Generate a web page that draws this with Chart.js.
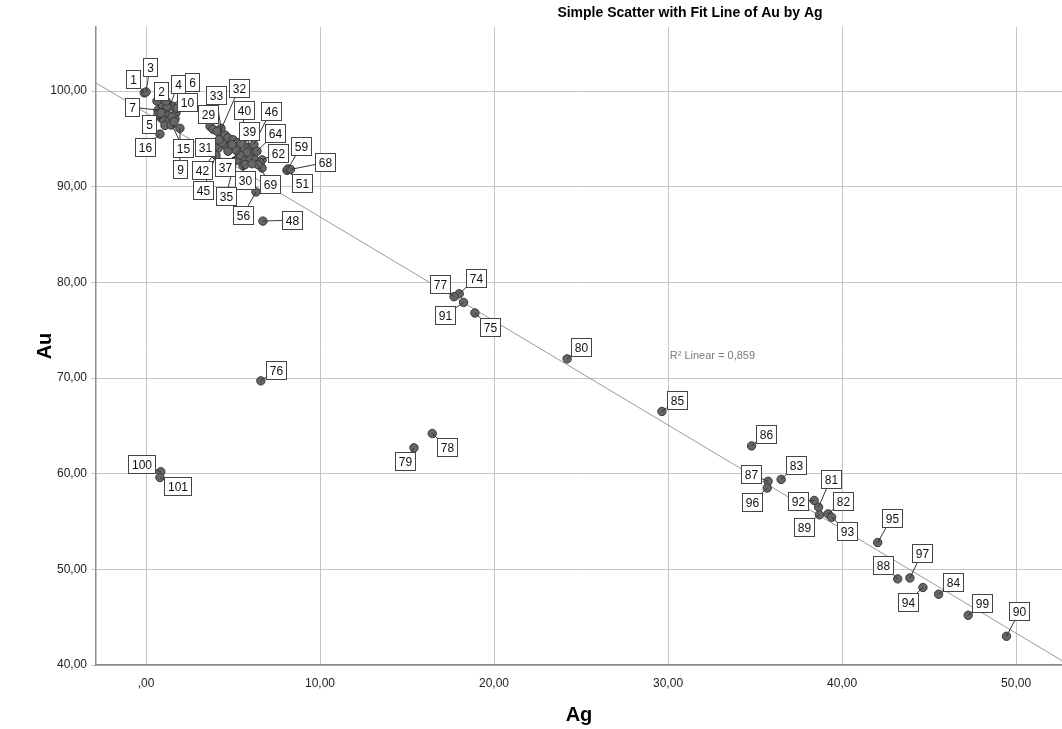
<!DOCTYPE html>
<html>
<head>
<meta charset="utf-8">
<script src="https://cdn.jsdelivr.net/npm/chart.js@4.4.1/dist/chart.umd.min.js"></script>
<style>
  body { margin: 0; background: #fff; }
  #wrap { width: 1062px; height: 729px; }
</style>
</head>
<body>
<div id="wrap"><canvas id="scatter" width="1062" height="729"></canvas></div>
<script>
// case numbers with Ag / Au values
const caseNo = [
  1, 2, 3, 4, 5, 6, 7, 8, 9, 10, 11, 12, 13, 14, 15, 16, 17, 18, 19, 20, 21, 22, 23, 24, 25, 26, 27, 28,
  29, 30, 31, 32, 33, 34, 35, 36, 37, 38, 39, 40, 41, 42, 43, 44, 45, 46, 47, 48, 49, 50,
  51, 52, 53, 54, 55, 56, 57, 58, 59, 60, 61, 62, 63, 64, 65, 66, 67, 68, 69, 70, 71, 72, 73,
  74, 75, 76, 77, 78, 79, 80, 81, 82, 83, 84, 85, 86, 87, 88, 89, 90, 91, 92, 93, 94, 95, 96, 97, 99, 100, 101
];
const agValues = [
  -0.1, 0.75, 0.0, 1.38, 0.86, 1.55, 0.69, 0.98, 1.95, 1.72, 1.15, 1.26, 1.03, 1.32, 1.49, 0.8, 1.67, 0.92, 1.21, 1.49, 1.09, 0.69, 1.44, 0.63, 1.78, 1.15, 0.86, 1.61,
  3.68, 5.57, 3.97, 4.25, 4.31, 3.85, 5.11, 4.08, 5.4, 4.54, 5.86, 5.57, 4.71, 4.14, 5.0, 5.29, 4.02, 6.2, 4.6, 6.72, 4.89, 5.17,
  8.1, 6.09, 5.69, 5.98, 5.69, 6.32, 6.26, 5.23, 8.16, 4.37, 4.71, 6.67, 5.46, 6.38, 6.55, 6.67, 4.94, 8.3, 6.44, 5.8, 4.2, 5.4, 6.09,
  18.0, 18.9, 6.6, 17.7, 16.45, 15.4, 24.2, 38.65, 39.2, 36.5, 45.55, 29.65, 34.8, 35.75, 43.2, 38.7, 49.45, 18.25, 38.4, 39.4, 44.65, 42.05, 35.7, 43.9, 47.25, 0.85, 0.8
];
const auValues = [
  99.8, 98.9, 99.9, 98.5, 97.2, 98.4, 98.0, 98.2, 96.1, 97.7, 97.8, 97.4, 96.9, 96.9, 96.5, 95.5, 97.1, 98.6, 98.4, 97.3, 96.4, 97.6, 96.45, 98.95, 98.2, 98.95, 97.7, 96.8,
  96.3, 92.2, 94.6, 95.7, 96.1, 96.0, 92.7, 95.8, 93.6, 95.4, 94.1, 94.9, 95.1, 94.0, 94.9, 94.6, 93.3, 94.4, 94.25, 86.4, 94.15, 93.8,
  91.7, 93.5, 93.0, 93.0, 92.3, 89.45, 92.8, 92.8, 91.85, 94.6, 93.7, 92.8, 94.5, 93.7, 92.5, 91.95, 94.4, 91.8, 92.3, 93.6, 94.9, 93.3, 92.4,
  78.8, 76.8, 69.7, 78.5, 64.2, 62.7, 72.0, 56.5, 55.8, 59.4, 47.4, 66.5, 62.9, 59.2, 49.0, 55.7, 43.0, 77.9, 57.2, 55.45, 48.1, 52.8, 58.5, 49.1, 45.2, 60.2, 59.6
];

const fitAg = [-3, 53];
const fitAu = [100.98, 40.06];
const rSquared = '0,859';

const xTicks = [0, 10, 20, 30, 40, 50];
const yTicks = [40, 50, 60, 70, 80, 90, 100];

// cases that carry a label box, with the box offset from the point (px)
const labelOffsets = {
  1: [-11, -14], 3: [4, -25], 2: [2, -11], 4: [8, -21], 6: [19, -24], 7: [-26, -3], 10: [11, -11],
  5: [-12, 6], 16: [-15, 13], 15: [11, 24], 9: [0, 41],
  29: [-2, -12], 33: [-5, -33], 32: [19, -44], 40: [1, -30], 46: [17, -34], 39: [1, -16], 64: [18, -18],
  31: [-10, 4], 62: [16, -7], 59: [13, -23], 68: [35, -7], 51: [15, 13], 42: [-16, 22], 37: [-15, 15],
  30: [2, 14], 69: [12, 19], 45: [-13, 35], 35: [-9, 35], 56: [-13, 23], 48: [29, -1],
  77: [-14, -13], 74: [17, -16], 91: [-19, 13], 75: [15, 14], 76: [15, -11], 80: [14, -12],
  79: [-9, 13], 78: [15, 14], 100: [-19, -8], 101: [18, 9],
  85: [15, -11], 86: [14, -12], 83: [15, -14], 87: [-17, -7], 81: [12, -28], 96: [-15, 14],
  92: [-16, 1], 82: [15, -13], 89: [-15, 12], 93: [15, 14], 95: [14, -25], 97: [12, -25],
  88: [-15, -14], 84: [14, -12], 94: [-15, 14], 99: [14, -12], 90: [13, -25]
};

const FONT = '"Liberation Sans", Arial, sans-serif';

function commaFmt(v) {
  if (v === 0) return ',00';
  return v.toFixed(2).replace('.', ',');
}

const points = caseNo.map((c, i) => ({x: agValues[i], y: auValues[i], c}));
const fitPoints = fitAg.map((x, i) => ({x, y: fitAu[i]}));

const labelPlugin = {
  id: 'labelPlugin',
  afterDatasetsDraw(chart) {
    const {ctx, scales} = chart;
    const boxes = [];
    points.forEach(p => {
      const off = labelOffsets[p.c];
      if (!off) return;
      const px = scales.x.getPixelForValue(p.x);
      const py = scales.y.getPixelForValue(p.y);
      boxes.push({px, py, bx: px + off[0], by: py + off[1], text: String(p.c)});
    });
    ctx.save();
    ctx.font = '12px ' + FONT;
    // leader lines first
    ctx.strokeStyle = '#333';
    ctx.lineWidth = 1;
    boxes.forEach(b => {
      if (Math.hypot(b.bx - b.px, b.by - b.py) < 13) return;
      ctx.beginPath();
      ctx.moveTo(b.px, b.py);
      ctx.lineTo(b.bx, b.by);
      ctx.stroke();
    });
    boxes.forEach(b => {
      const w = Math.round(ctx.measureText(b.text).width + 7);
      const h = 18;
      const x0 = Math.round(b.bx - w / 2) + 0.5;
      const y0 = Math.round(b.by - h / 2) + 0.5;
      ctx.fillStyle = '#fff';
      ctx.fillRect(x0, y0, w, h);
      ctx.strokeStyle = '#444';
      ctx.strokeRect(x0, y0, w, h);
      ctx.fillStyle = '#111';
      ctx.textAlign = 'center';
      ctx.textBaseline = 'middle';
      ctx.fillText(b.text, x0 + w / 2, y0 + h / 2 + 1);
    });

    // R² note
    ctx.fillStyle = '#7a7a7a';
    ctx.font = '11px ' + FONT;
    ctx.textAlign = 'left';
    ctx.fillText('R² Linear = ' + rSquared, scales.x.getPixelForValue(30.1), scales.y.getPixelForValue(72.3));

    // titles
    const area = chart.chartArea;
    ctx.fillStyle = '#000';
    ctx.textAlign = 'center';
    ctx.textBaseline = 'middle';
    ctx.font = 'bold 14px ' + FONT;
    ctx.fillText('Simple Scatter with Fit Line of Au by Ag', 690, 13);
    ctx.font = 'bold 20px ' + FONT;
    ctx.fillText('Ag', (area.left + area.right) / 2, 715);
    ctx.save();
    ctx.translate(45, (area.top + area.bottom) / 2);
    ctx.rotate(-Math.PI / 2);
    ctx.fillText('Au', 0, 0);
    ctx.restore();
    ctx.restore();
  }
};

new Chart(document.getElementById('scatter'), {
  type: 'scatter',
  data: {
    datasets: [
      {
        type: 'line',
        data: fitPoints,
        borderColor: '#9a9a9a',
        borderWidth: 1,
        pointRadius: 0,
        fill: false,
        order: 2
      },
      {
        data: points,
        backgroundColor: '#666666',
        borderColor: '#383838',
        borderWidth: 1,
        pointRadius: 4.2,
        order: 1
      }
    ]
  },
  options: {
    responsive: false,
    animation: false,
    layout: {autoPadding: false, padding: {top: 27, right: 0, bottom: 0, left: 0}},
    plugins: {legend: {display: false}, tooltip: {enabled: false}},
    scales: {
      x: {
        type: 'linear',
        min: -2.874,
        max: 52.64,
        afterFit: s => { s.height = 64; s.paddingLeft = 0; s.paddingRight = 0; },
        afterBuildTicks: s => { s.ticks = xTicks.map(v => ({value: v})); },
        ticks: {callback: commaFmt, color: '#222', font: {family: FONT, size: 12}, padding: 11, maxRotation: 0},
        grid: {color: '#c4c4c4', lineWidth: 1, tickLength: 0, drawTicks: false},
        border: {color: '#8c8c8c', width: 1.5}
      },
      y: {
        type: 'linear',
        min: 40,
        max: 106.69,
        afterFit: s => { s.width = 96; s.paddingTop = 0; s.paddingBottom = 0; },
        afterBuildTicks: s => { s.ticks = yTicks.map(v => ({value: v})); },
        ticks: {callback: commaFmt, color: '#222', font: {family: FONT, size: 12}, padding: 4},
        grid: {color: '#c4c4c4', lineWidth: 1, tickLength: 5},
        border: {color: '#8c8c8c', width: 1.5}
      }
    }
  },
  plugins: [labelPlugin]
});
</script>
</body>
</html>
